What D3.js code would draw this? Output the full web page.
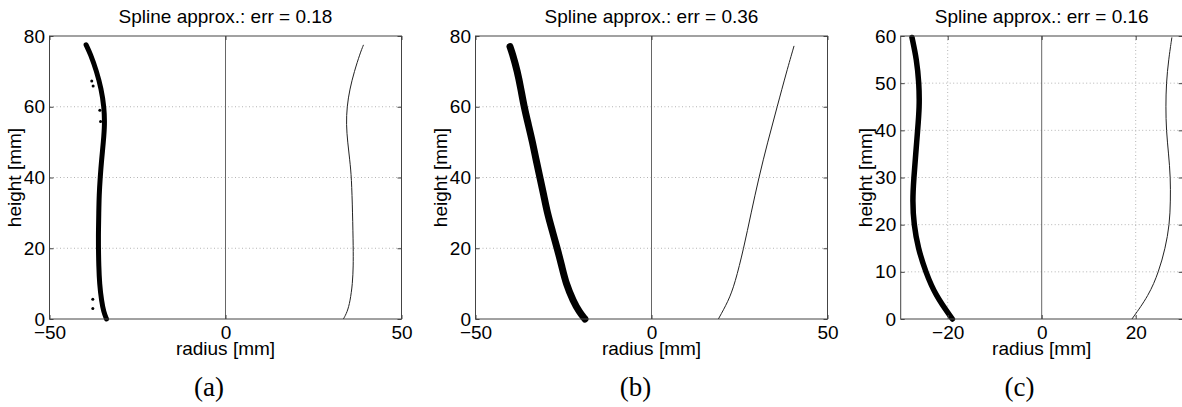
<!DOCTYPE html>
<html>
<head>
<meta charset="utf-8">
<script src="https://cdn.jsdelivr.net/npm/d3@7"></script>
<style>
  body { margin: 0; background: #fff; }
  text { font-family: "Liberation Sans", Arial, sans-serif; }
</style>
</head>
<body>
<script>

// (a)
var cloudA = [[-39.6, 77.5], [-38.4, 75], [-36.6, 70], [-35.3, 65], [-34.5, 60], [-34.3, 55],
    [-34.7, 50], [-35.2, 45], [-35.6, 40], [-35.9, 35], [-36.0, 30], [-36.1, 25], [-36.1, 20],
    [-36.0, 15], [-35.8, 10], [-35.2, 5], [-34.6, 2], [-33.8, 0]]
var outliersA = [[-38.0, 67.3], [-37.6, 65.9], [-35.7, 59.0], [-35.5, 55.8], [-37.7, 5.6], [-37.7, 3.0]]
var splineA = [[39.2, 77.5], [38.2, 75], [36.6, 70], [35.3, 65], [34.5, 60], [34.3, 55], [34.7, 50],
    [35.3, 45], [35.8, 40], [36.1, 30], [36.3, 20], [36.3, 15], [36.1, 10], [35.4, 5], [34.6, 2], [33.5, 0]]

// (b)
var cloudB = [[-40.2, 77], [-39.5, 75], [-38.1, 70], [-37.1, 65], [-36.2, 60], [-35.0, 55],
    [-33.8, 50], [-32.8, 45], [-31.7, 40], [-30.6, 35], [-29.6, 30], [-28.2, 25], [-26.8, 20],
    [-25.5, 15], [-24.3, 10], [-22.2, 5], [-20.5, 2], [-18.9, 0]]
var outliersB = []
var splineB = [[40.5, 77.2], [38.4, 70], [35.7, 60], [33.0, 50], [30.5, 40], [28.3, 30],
    [26.2, 20], [23.7, 10], [21.8, 5], [19.0, 0]]

// (c)
var cloudC = [[-27.6, 59.7], [-26.6, 55], [-26.1, 50], [-26.0, 45], [-26.4, 40], [-26.8, 35],
    [-27.2, 30], [-27.5, 25], [-27.2, 20], [-26.3, 15], [-24.7, 10], [-22.6, 5], [-19.0, 0]]
var outliersC = []
var splineC = [[27.7, 59.7], [27.0, 55], [26.5, 50], [26.4, 45], [26.5, 40], [27.0, 35],
    [27.4, 30], [27.4, 25], [27.2, 20], [26.3, 15], [24.9, 10], [22.8, 5], [19.2, 0]]

var errors = [0.18, 0.36, 0.16]
var captions = ["(a)", "(b)", "(c)"]
var xTicksAB = [-50, 0, 50]
var xTicksC = [-20, 0, 20]
var yTicksAB = [0, 20, 40, 60, 80]
var yTicksC = [0, 10, 20, 30, 40, 50, 60]

var panels = [
    { cloud: cloudA, outliers: outliersA, spline: splineA, err: errors[0], caption: captions[0],
      xDomain: [-50, 50], yMax: 80, xTicks: xTicksAB, yTicks: yTicksAB, xGrid: false,
      left: 49.5, right: 401.5, capX: 209, band: 5 },
    { cloud: cloudB, outliers: outliersB, spline: splineB, err: errors[1], caption: captions[1],
      xDomain: [-50, 50], yMax: 80, xTicks: xTicksAB, yTicks: yTicksAB, xGrid: false,
      left: 475.5, right: 827.5, capX: 635.5, band: 7 },
    { cloud: cloudC, outliers: outliersC, spline: splineC, err: errors[2], caption: captions[2],
      xDomain: [-30, 30], yMax: 60, xTicks: xTicksC, yTicks: yTicksC, xGrid: true,
      left: 900.7, right: 1182.7, capX: 1019.5, band: 5.5 }
]

var plotTop = 36, plotBottom = 319

var svg = d3.select("body").append("svg")
    .attr("width", 1182)
    .attr("height", 407)
    .style("background", "#fff")

panels.forEach(function(p) {
    var x = d3.scaleLinear().domain(p.xDomain).range([p.left, p.right])
    var y = d3.scaleLinear().domain([0, p.yMax]).range([plotBottom, plotTop])
    var g = svg.append("g")

    // dotted grid
    g.selectAll(".hgrid")
        .data(p.yTicks.filter(function(t) { return t > 0 && t < p.yMax }))
        .enter().append("line")
        .attr("x1", p.left).attr("x2", p.right)
        .attr("y1", function(d) { return y(d) }).attr("y2", function(d) { return y(d) })
        .style("stroke", "#b4b4b4").style("stroke-width", 1).style("stroke-dasharray", "1,2.5")
    if (p.xGrid) {
        g.selectAll(".vgrid")
            .data(p.xTicks.filter(function(t) { return t != 0 }))
            .enter().append("line")
            .attr("x1", function(d) { return x(d) }).attr("x2", function(d) { return x(d) })
            .attr("y1", plotTop).attr("y2", plotBottom)
            .style("stroke", "#b4b4b4").style("stroke-width", 1).style("stroke-dasharray", "1,2.5")
    }

    // symmetry axis
    g.append("line")
        .attr("x1", x(0)).attr("x2", x(0))
        .attr("y1", y(0)).attr("y2", y(p.yMax))
        .style("stroke", "#666").style("stroke-width", 1)

    var line = d3.line()
        .x(function(d) { return x(d[0]) })
        .y(function(d) { return y(d[1]) })
        .curve(d3.curveBasis)

    // measured points drawn as a dense band
    g.append("path")
        .attr("d", line(p.cloud))
        .style("fill", "none")
        .style("stroke", "#000")
        .style("stroke-width", p.band)
        .style("stroke-linecap", "round")
        .style("stroke-linejoin", "round")
    g.selectAll(".out")
        .data(p.outliers)
        .enter().append("circle")
        .attr("cx", function(d) { return x(d[0]) })
        .attr("cy", function(d) { return y(d[1]) })
        .attr("r", 1.5)
        .style("fill", "#000")

    // fitted spline (mirrored side)
    g.append("path")
        .attr("d", line(p.spline))
        .style("fill", "none")
        .style("stroke", "#222")
        .style("stroke-width", 1)

    // axes with inward ticks
    g.append("g")
        .attr("transform", "translate(0," + plotBottom + ")")
        .call(d3.axisBottom(x).tickValues(p.xTicks).tickSize(-4).tickSizeOuter(0).tickPadding(7))
    g.append("g")
        .attr("transform", "translate(" + p.left + ",0)")
        .call(d3.axisLeft(y).tickValues(p.yTicks).tickSize(-4).tickSizeOuter(0).tickPadding(4.5))
    g.append("g")
        .attr("transform", "translate(0," + plotTop + ")")
        .call(d3.axisTop(x).tickValues(p.xTicks).tickSize(-4).tickSizeOuter(0).tickFormat(""))
    g.append("g")
        .attr("transform", "translate(" + p.right + ",0)")
        .call(d3.axisRight(y).tickValues(p.yTicks).tickSize(-4).tickSizeOuter(0).tickFormat(""))

    g.selectAll(".domain").remove()
    g.selectAll(".tick line").style("stroke", "#444")
    g.selectAll(".tick text")
        .style("font-family", "Liberation Sans, Arial, sans-serif")
        .style("font-size", "19px")
        .style("fill", "#000")

    g.append("rect")
        .attr("x", p.left).attr("y", plotTop)
        .attr("width", p.right - p.left).attr("height", plotBottom - plotTop)
        .style("fill", "none").style("stroke", "#444").style("stroke-width", 1)

    // labels
    g.append("text")
        .attr("x", (p.left + p.right) / 2).attr("y", 23)
        .attr("text-anchor", "middle")
        .style("font-size", "19px")
        .text("Spline approx.: err = " + p.err.toFixed(2))
    g.append("text")
        .attr("x", (p.left + p.right) / 2).attr("y", 355)
        .attr("text-anchor", "middle")
        .style("font-size", "19px")
        .text("radius [mm]")
    g.append("text")
        .attr("transform", "translate(" + (p.left - 28.5) + "," + ((plotTop + plotBottom) / 2) + ") rotate(-90)")
        .attr("text-anchor", "middle")
        .style("font-size", "19px")
        .text("height [mm]")
    g.append("text")
        .attr("x", p.capX).attr("y", 396)
        .attr("text-anchor", "middle")
        .style("font-family", "Liberation Serif, DejaVu Serif, serif")
        .style("font-size", "27px")
        .text(p.caption)
})
</script>
</body>
</html>
